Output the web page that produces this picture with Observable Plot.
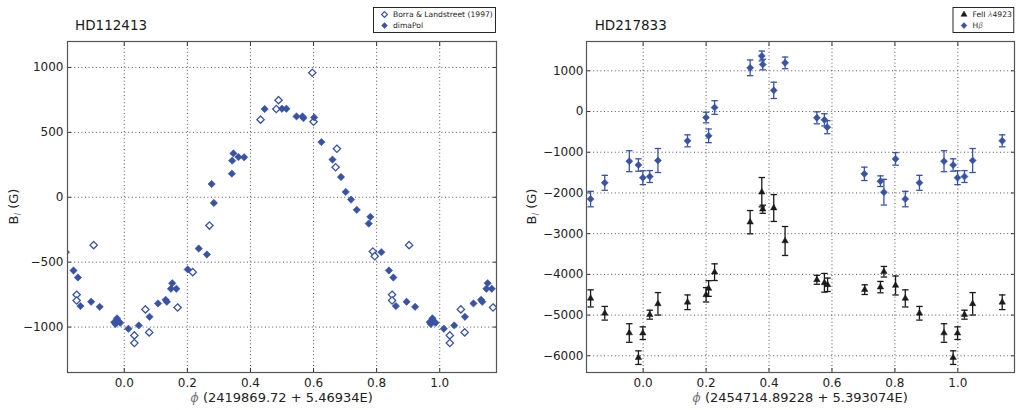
<!DOCTYPE html>
<html><head><meta charset="utf-8">
<script src="https://cdn.jsdelivr.net/npm/d3@7"></script>
<script src="https://cdn.jsdelivr.net/npm/@observablehq/plot@0.6"></script>
<style>
body{margin:0;background:#fff;}
#wrap{display:flex;width:1016px;height:410px;}
svg{font-family:"DejaVu Sans",sans-serif;}
</style></head><body><div id="wrap"></div>
<script>
// ---- axes ----
const xTicks = [0, 0.2, 0.4, 0.6, 0.8, 1.0];
const leftYTicks = [-1000, -500, 0, 500, 1000];
const rightYTicks = [-6000, -5000, -4000, -3000, -2000, -1000, 0, 1000];
const xDomain = [-0.18, 1.18];
const leftYDomain = [-1350, 1200];
const rightYDomain = [-6410, 1720];

// ---- HD112413 ----
const borraPhase = [0.032,0.032,0.067,0.079,0.169,0.217,0.270,0.432,0.482,0.489,0.596,0.600,0.670,0.674,0.788,0.794,0.849,0.849,0.903];
const borraB     = [-1064,-1123,-864,-1041,-849,-577,-218,598,680,748,959,582,231,374,-418,-454,-751,-795,-369];

const dimaPhase = [0.013,0.046,0.080,0.107,0.131,0.135,0.148,0.152,0.165,0.201,
                   0.236,0.262,0.277,0.284,0.341,0.342,0.346,0.362,0.380,0.445,
                   0.500,0.514,0.546,0.565,0.568,0.602,0.625,0.660,0.687,0.702,
                   0.719,0.737,0.775,0.780,0.815,0.839,0.853,0.861,0.895,0.922,
                   0.968,0.972,0.977,0.980,0.987];
const dimaB     = [-1013,-987,-921,-818,-790,-805,-705,-662,-705,-556,
                   -395,-441,102,-44,182,282,338,310,308,680,
                   682,682,623,623,610,615,425,290,156,41,
                   -18,-97,-203,-151,-423,-564,-618,-838,-805,-844,
                   -962,-977,-933,-954,-967];

// ---- HD217833 ----
const hbPhase = [0.021,0.047,0.141,0.200,0.208,0.227,0.340,0.377,0.380,0.415,0.451,0.552,0.576,0.585,0.703,0.754,0.765,0.802,0.833,0.878,0.956,0.985,0.999];
const hbB     = [-1597,-1203,-720,-147,-597,98,1073,1365,1154,520,1195,-155,-204,-385,-1531,-1711,-1981,-1163,-2150,-1751,-1220,-1314,-1625];
const hbErr   = [146,295,147,130,168,168,193,120,130,200,143,147,150,160,164,131,315,155,190,184,258,152,170];

const fePhase = [0.021,0.047,0.141,0.200,0.208,0.227,0.340,0.377,0.380,0.415,0.451,0.552,0.576,0.586,0.704,0.754,0.765,0.802,0.833,0.878,0.956,0.985,0.999];
const feB     = [-4990,-4723,-4685,-4502,-4347,-3946,-2718,-1981,-2400,-2370,-3180,-4133,-4207,-4256,-4375,-4313,-3935,-4273,-4590,-4955,-5440,-6045,-5444];
const feErr   = [110,276,180,176,192,205,286,360,100,330,356,110,230,165,119,140,130,233,210,168,228,167,155];

const blue = "#3953a4";
const black = "#1a1a1a";

// phase-folded rows, repeated one cycle either side inside the window
function fold(phase, B, err) {
  const rows = [];
  phase.forEach((p, i) => {
    for (const k of [-1, 0, 1]) {
      const q = p + k;
      if (q >= -0.2 && q <= 1.2) rows.push({phase: q, B: B[i], err: err ? err[i] : 0});
    }
  });
  return rows;
}
const borraRows = fold(borraPhase, borraB);
const dimaRows = fold(dimaPhase, dimaB);
const hbRows = fold(hbPhase, hbB, hbErr);
const feRows = fold(fePhase, feB, feErr);

const capSymbol = {draw(ctx) { ctx.moveTo(-3.2, 0); ctx.lineTo(3.2, 0); }};
const grid = {stroke: "#000", strokeOpacity: 0.75, strokeWidth: 0.9, strokeDasharray: "1,2.6"};

function errMarks(rows, color, symbol, r) {
  return [
    Plot.ruleX(rows, {x: "phase", y1: d => d.B - d.err, y2: d => d.B + d.err, stroke: color, strokeWidth: 1.3, clip: true}),
    Plot.dot(rows, {x: "phase", y: d => d.B - d.err, symbol: capSymbol, stroke: color, fill: "none", strokeWidth: 1.3, clip: true}),
    Plot.dot(rows, {x: "phase", y: d => d.B + d.err, symbol: capSymbol, stroke: color, fill: "none", strokeWidth: 1.3, clip: true}),
    Plot.dot(rows, {x: "phase", y: "B", symbol, r, fill: color, stroke: color, strokeWidth: 0.5, clip: true})
  ];
}

function panel({marginLeft, marginRight, yDomain, yTicks, tickPad, marks}) {
  return Plot.plot({
    width: 508, height: 410, marginLeft, marginRight, marginTop: 41, marginBottom: 38,
    x: {domain: xDomain}, y: {domain: yDomain},
    style: {fontFamily: "DejaVu Sans", fontSize: "12px", color: "#222", background: "#fff", overflow: "visible"},
    marks: [
      Plot.gridX(xTicks, grid),
      Plot.gridY(yTicks, grid),
      ...marks,
      Plot.axisX(xTicks, {anchor: "bottom", tickSize: 0, tickPadding: 6, tickFormat: d3.format(".1f"), label: null, fontSize: 12}),
      Plot.axisY(yTicks, {anchor: "left", tickSize: 0, tickPadding: tickPad, tickFormat: d3.format("d"), label: null, fontSize: 12}),
      Plot.axisX(xTicks, {anchor: "bottom", tickSize: 4, dy: -4, tickFormat: () => "", label: null, stroke: "#333"}),
      Plot.axisX(xTicks, {anchor: "top", tickSize: 4, dy: 4, tickFormat: () => "", label: null, stroke: "#333"}),
      Plot.axisY(yTicks, {anchor: "left", tickSize: 4, dx: 4, tickFormat: () => "", label: null, stroke: "#333"}),
      Plot.axisY(yTicks, {anchor: "right", tickSize: 4, dx: -4, tickFormat: () => "", label: null, stroke: "#333"}),
      Plot.frame({stroke: "#555", strokeWidth: 1.2})
    ]
  });
}

const left = panel({
  marginLeft: 67, marginRight: 12, yDomain: leftYDomain, yTicks: leftYTicks, tickPad: 4,
  marks: [
    Plot.dot(borraRows, {x: "phase", y: "B", symbol: "diamond2", r: 3.3, fill: "#fff", stroke: blue, strokeWidth: 1.3, clip: true}),
    Plot.dot(dimaRows, {x: "phase", y: "B", symbol: "diamond2", r: 3.3, fill: blue, stroke: blue, strokeWidth: 0.6, clip: true})
  ]
});
const right = panel({
  marginLeft: 78, marginRight: 2, yDomain: rightYDomain, yTicks: rightYTicks, tickPad: 3,
  marks: [
    ...errMarks(feRows, black, "triangle", 2.4),
    ...errMarks(hbRows, blue, "diamond2", 3.2)
  ]
});
document.getElementById("wrap").append(left, right);

function decorate(svg, o) {
  const s = d3.select(svg);
  s.append("text").attr("x", o.titleX).attr("y", 30).attr("text-anchor", "start")
    .attr("font-size", 13.5).attr("fill", "#1a1a1a").text(o.title);
  // x label
  const xl = s.append("text").attr("x", o.xMid).attr("y", 402).attr("text-anchor", "middle")
    .attr("font-size", 13).attr("fill", "#222");
  xl.append("tspan").attr("font-style", "italic").attr("fill", "#777").text("\u03D5");
  xl.append("tspan").text(" " + o.xlabel);
  // y label
  const yl = s.append("text").attr("transform", `translate(${o.yLabX},206.5) rotate(-90)`).attr("text-anchor", "middle")
    .attr("font-size", 13).attr("fill", "#222");
  yl.append("tspan").text("B");
  yl.append("tspan").attr("font-size", 9).attr("font-style", "italic").attr("fill", "#777").attr("dy", 3).text("l");
  yl.append("tspan").attr("dy", -3).text(" (G)");
  // legend
  const g = s.append("g");
  g.append("rect").attr("x", o.lx0).attr("y", 7.5).attr("width", o.lx1 - o.lx0).attr("height", 25)
    .attr("fill", "#fff").attr("stroke", "#111").attr("stroke-width", 0.9);
  o.items.forEach((it, i) => {
    const y = 14.5 + i * 11;
    g.append("path").attr("transform", `translate(${o.lx0 + 11},${y})`)
      .attr("d", d3.symbol(it.sym, it.size)())
      .attr("fill", it.fill).attr("stroke", it.stroke).attr("stroke-width", it.sw);
    const t = g.append("text").attr("x", o.lx0 + 19.5).attr("y", y + 2.8).attr("text-anchor", "start")
      .attr("font-size", 7.6).attr("fill", "#222");
    it.parts.forEach(p => {
      const ts = t.append("tspan").text(p.t);
      if (p.it) ts.attr("font-style", "italic").attr("fill", "#777");
    });
  });
}

decorate(left, {
  title: "HD112413", titleX: 75, xMid: 281.5, yLabX: 18,
  xlabel: "(2419869.72 + 5.46934E)",
  lx0: 373.5, lx1: 495.5,
  items: [
    {sym: d3.symbolDiamond2, size: 22, fill: "#fff", stroke: blue, sw: 1.2, parts: [{t: "Borra & Landstreet (1997)"}]},
    {sym: d3.symbolDiamond2, size: 22, fill: blue, stroke: blue, sw: 0.5, parts: [{t: "dimaPol"}]}
  ]
});
decorate(right, {
  title: "HD217833", titleX: 86.7, xMid: 292, yLabX: 27.5,
  xlabel: "(2454714.89228 + 5.393074E)",
  lx0: 445, lx1: 505.8,
  items: [
    {sym: d3.symbolTriangle, size: 16, fill: black, stroke: black, sw: 0.5, parts: [{t: "FeII "}, {t: "\u03BB", it: true}, {t: "4923"}]},
    {sym: d3.symbolDiamond2, size: 22, fill: blue, stroke: blue, sw: 0.5, parts: [{t: "H"}, {t: "\u03B2", it: true}]}
  ]
});
</script></body></html>
